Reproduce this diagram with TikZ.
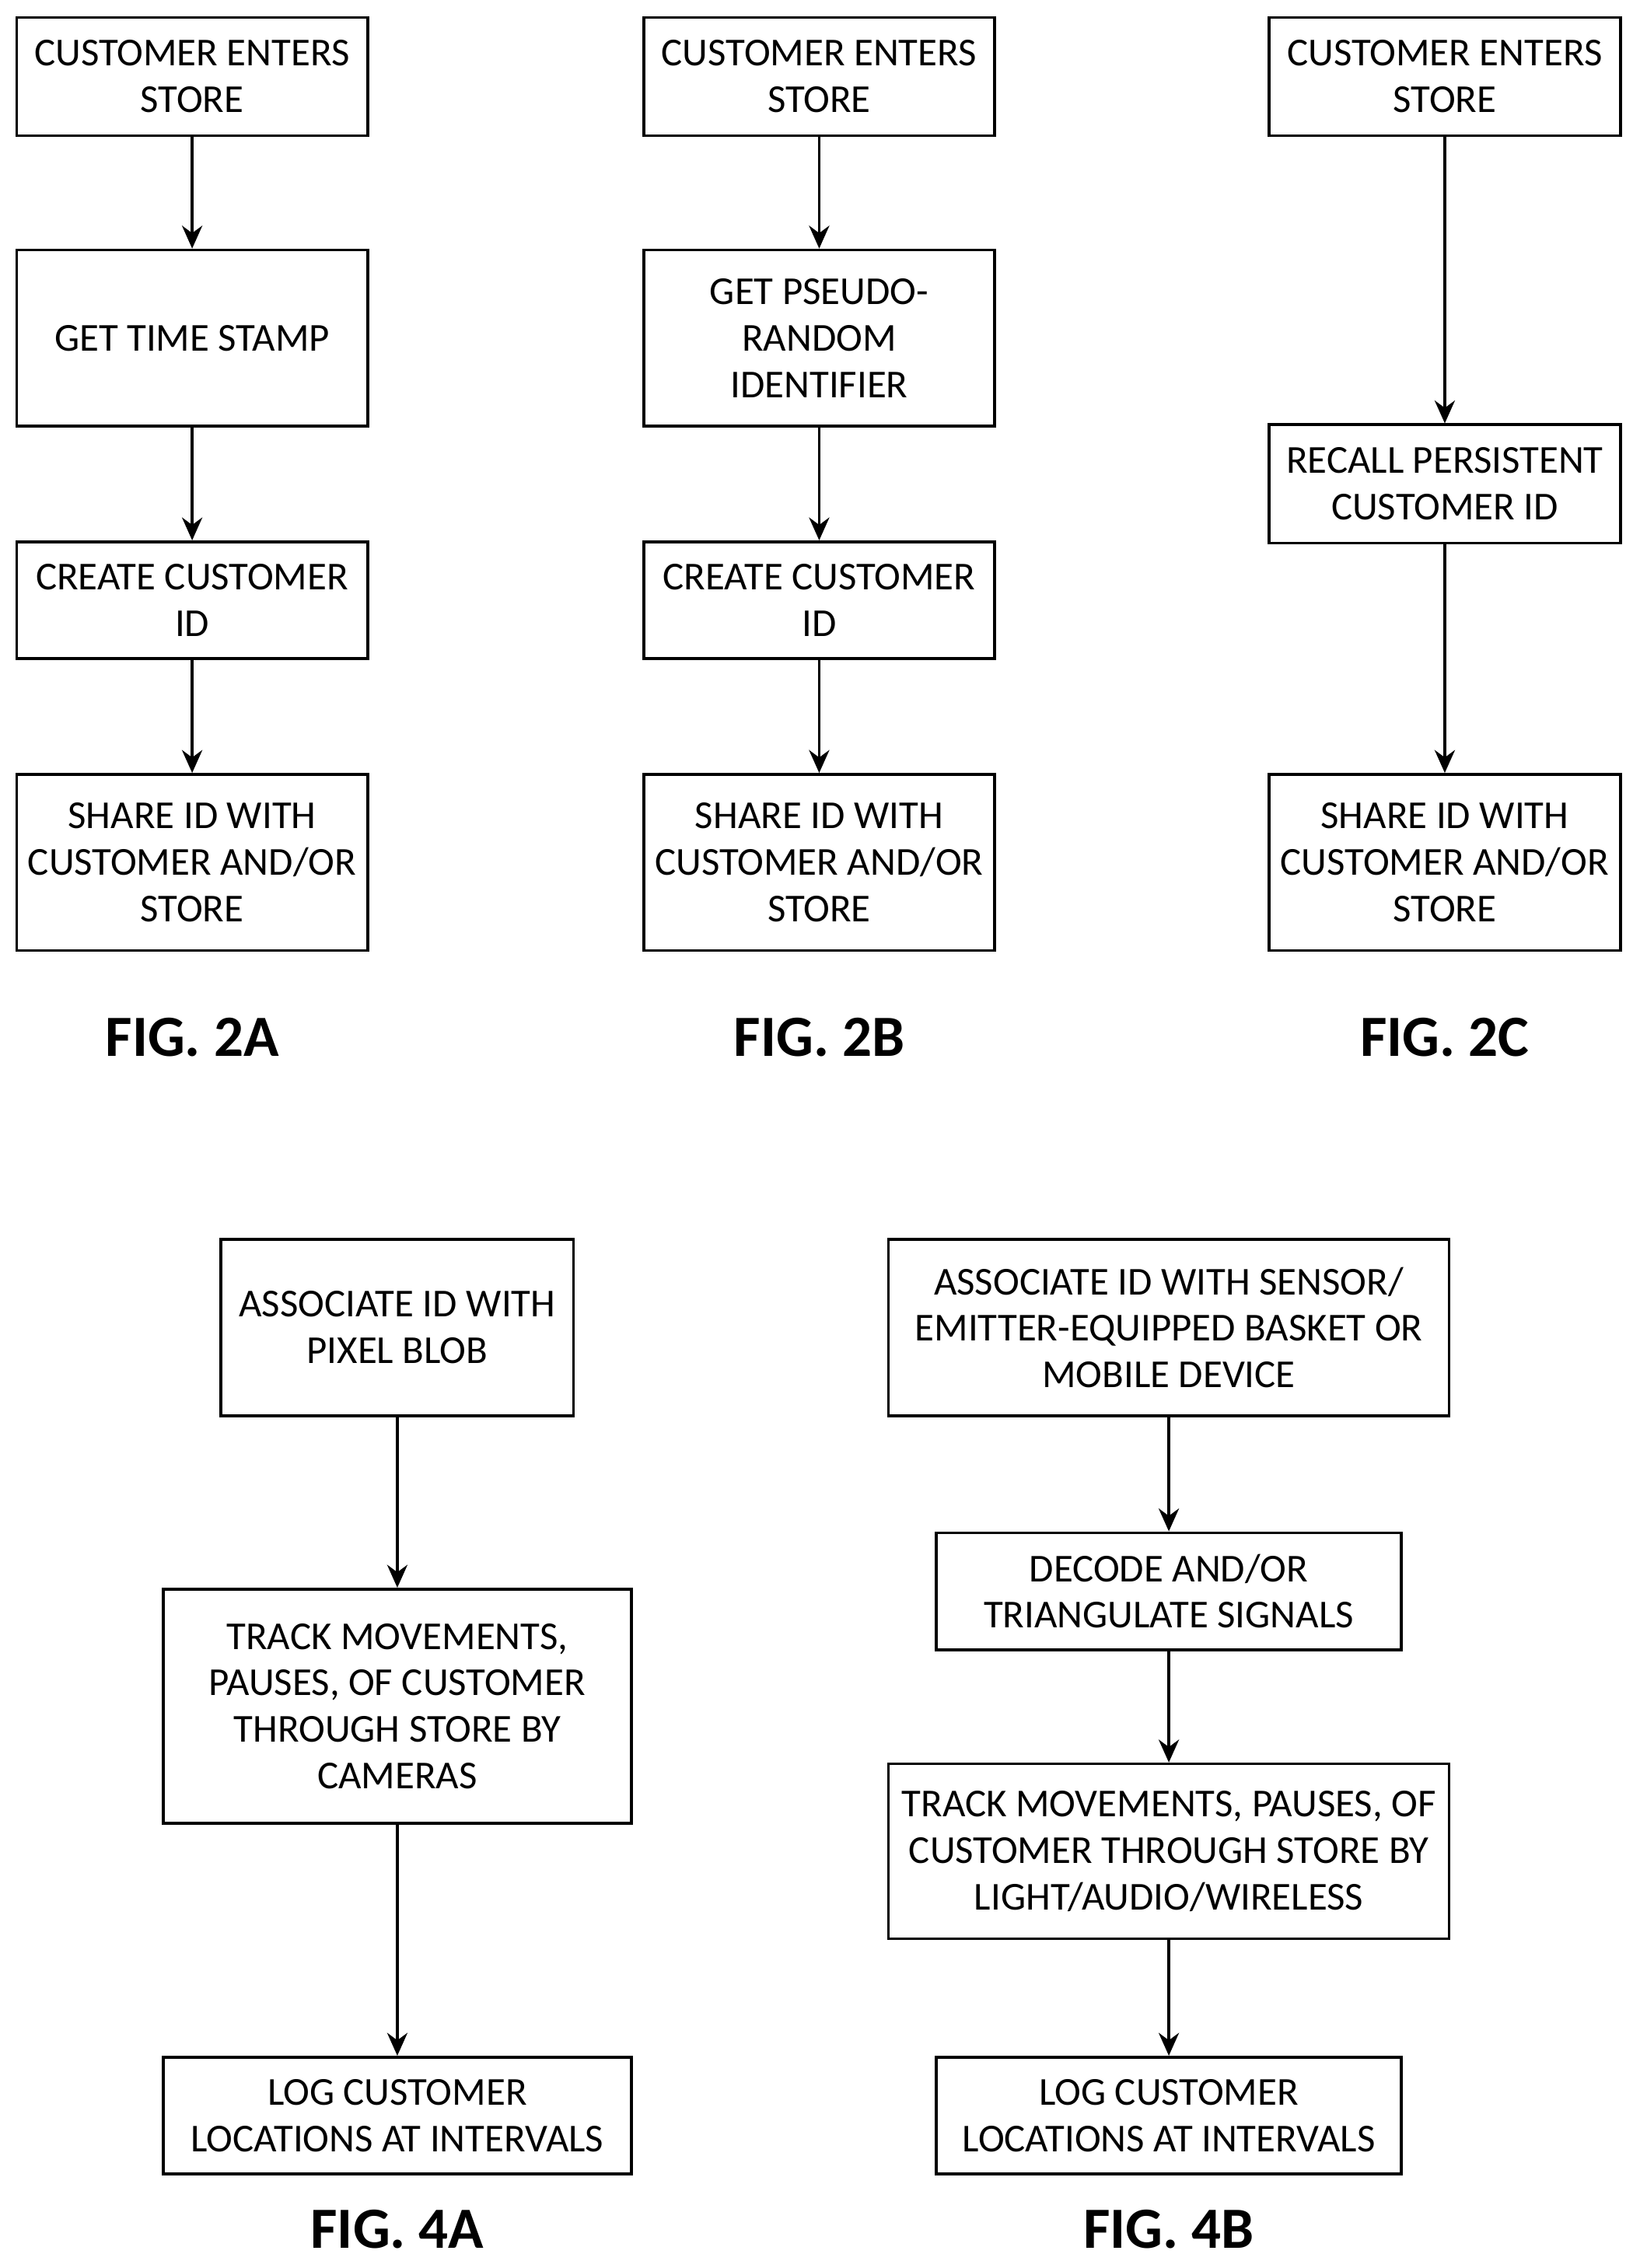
\documentclass[tikz,border=0pt]{standalone}
\usepackage{fontspec}
\setmainfont{Carlito}
\usetikzlibrary{arrows.meta}
\begin{document}
\begin{tikzpicture}[x=0.02cm,y=-0.02cm,
  every node/.style={draw,line width=1.1pt,inner sep=0,align=center,font=\fontsize{15.6}{18.3}\selectfont},
  box/.style args={#1x#2}{minimum width=#1*0.02cm,minimum height=#2*0.02cm},
  fig/.style={draw=none,font=\bfseries\fontsize{23}{26}\selectfont},
  flow/.style={-{Stealth[length=9pt,width=8pt]},line width=1.1pt}]
\useasboundingbox (0,0) rectangle (1135,1570);
% FIG. 2A
\node[box=243x82] (a1) at (133,53) {CUSTOMER ENTERS\\STORE};
\node[box=243x122] (a2) at (133,234) {GET TIME STAMP};
\node[box=243x81] (a3) at (133,415.5) {CREATE CUSTOMER\\ID};
\node[box=243x122] (a4) at (133,597) {SHARE ID WITH\\CUSTOMER AND/OR\\STORE};
\node[fig] (fa) at (133,718) {FIG. 2A};
\draw[flow] (a1) -- (a2);
\draw[flow] (a2) -- (a3);
\draw[flow] (a3) -- (a4);
% FIG. 2B
\node[box=243x82] (b1) at (567,53) {CUSTOMER ENTERS\\STORE};
\node[box=243x122] (b2) at (567,234) {GET PSEUDO-\\RANDOM\\IDENTIFIER};
\node[box=243x81] (b3) at (567,415.5) {CREATE CUSTOMER\\ID};
\node[box=243x122] (b4) at (567,597) {SHARE ID WITH\\CUSTOMER AND/OR\\STORE};
\node[fig] (fb) at (567,718) {FIG. 2B};
\draw[flow] (b1) -- (b2);
\draw[flow] (b2) -- (b3);
\draw[flow] (b3) -- (b4);
% FIG. 2C
\node[box=243x82] (c1) at (1000,53) {CUSTOMER ENTERS\\STORE};
\node[box=243x82] (c2) at (1000,335) {RECALL PERSISTENT\\CUSTOMER ID};
\node[box=243x122] (c3) at (1000,597) {SHARE ID WITH\\CUSTOMER AND/OR\\STORE};
\node[fig] (fc) at (1000,718) {FIG. 2C};
\draw[flow] (c1) -- (c2);
\draw[flow] (c2) -- (c3);
% FIG. 4A
\node[box=244x122] (d1) at (275,919) {ASSOCIATE ID WITH\\PIXEL BLOB};
\node[box=324x162] (d2) at (275,1181) {TRACK MOVEMENTS,\\PAUSES, OF CUSTOMER\\THROUGH STORE BY\\CAMERAS};
\node[box=324x81] (d3) at (275,1464.5) {LOG CUSTOMER\\LOCATIONS AT INTERVALS};
\node[fig] (fd) at (275,1543) {FIG. 4A};
\draw[flow] (d1) -- (d2);
\draw[flow] (d2) -- (d3);
% FIG. 4B
\node[box=388x122] (e1) at (809,919) {ASSOCIATE ID WITH SENSOR/\\EMITTER-EQUIPPED BASKET OR\\MOBILE DEVICE};
\node[box=322x81] (e2) at (809,1101.5) {DECODE AND/OR\\TRIANGULATE SIGNALS};
\node[box=388x121] (e3) at (809,1281.5) {TRACK MOVEMENTS, PAUSES, OF\\CUSTOMER THROUGH STORE BY\\LIGHT/AUDIO/WIRELESS};
\node[box=322x81] (e4) at (809,1464.5) {LOG CUSTOMER\\LOCATIONS AT INTERVALS};
\node[fig] (fe) at (809,1543) {FIG. 4B};
\draw[flow] (e1) -- (e2);
\draw[flow] (e2) -- (e3);
\draw[flow] (e3) -- (e4);
\end{tikzpicture}
\end{document}
